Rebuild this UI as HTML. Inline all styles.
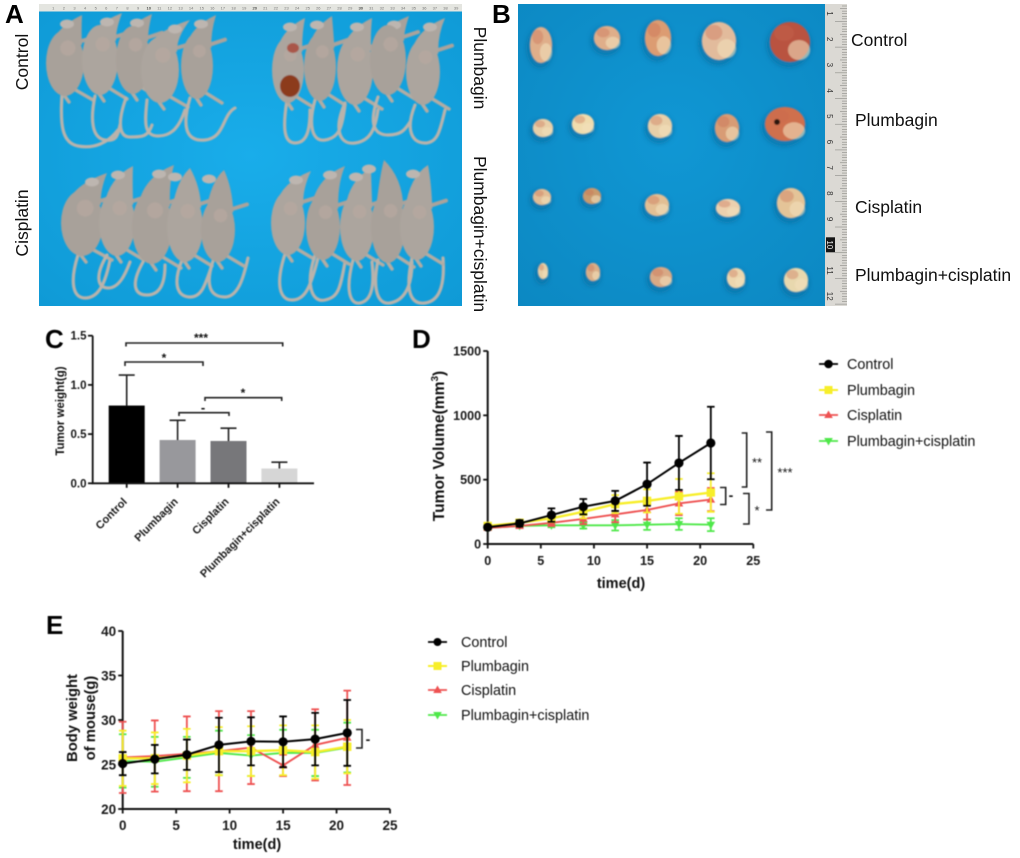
<!DOCTYPE html>
<html lang="en">
<head>
<meta charset="utf-8">
<title>Plumbagin and cisplatin tumor study figure</title>
<style>
html,body{margin:0;padding:0;background:#fff;width:1020px;height:858px;overflow:hidden}
svg{display:block}
text{font-family:"Liberation Sans",Arial,sans-serif;fill:#111}
.bold{font-weight:700}
.panel{font-weight:700;font-size:26px;fill:#000}
.plabel{font-size:17.5px}
.leg{font-size:14.4px}
.tick{font-weight:700;fill:#1a1a1a}
.brk{fill:none;stroke:#222;stroke-width:1.6}
.soft{filter:blur(.4px)}
</style>
</head>
<body>
<svg id="fig" xmlns="http://www.w3.org/2000/svg" width="1020" height="858" viewBox="0 0 1020 858">
  <defs>
    <radialGradient id="blueA" cx="50%" cy="50%" r="70%">
      <stop offset="0" stop-color="#19adea"/><stop offset="1" stop-color="#0f9ad6"/>
    </radialGradient>
    <radialGradient id="blueB" cx="50%" cy="45%" r="75%">
      <stop offset="0" stop-color="#1097d4"/><stop offset="1" stop-color="#0c88c2"/>
    </radialGradient>
    <filter id="blur1"><feGaussianBlur stdDeviation="0.7"/></filter>
    <filter id="blur2"><feGaussianBlur stdDeviation="2.2"/></filter>
  </defs>

  <!-- Panel A -->
  <g id="panelA">
    <rect x="39" y="4" width="423" height="302" fill="url(#blueA)"/>
    <rect x="39" y="4" width="423" height="7.5" fill="#e4e5e0"/>
    <g id="rulerTop"></g>
    <g id="mice" filter="url(#blur1)"></g>
    <text class="panel" x="5" y="23">A</text>
    <text class="plabel" transform="translate(28,62) rotate(-90)" text-anchor="middle">Control</text>
    <text class="plabel" transform="translate(28,223) rotate(-90)" text-anchor="middle">Cisplatin</text>
    <text class="plabel" transform="translate(474,68) rotate(90)" text-anchor="middle">Plumbagin</text>
    <text class="plabel" transform="translate(474,234) rotate(90)" text-anchor="middle">Plumbagin+cisplatin</text>
  </g>

  <!-- Panel B -->
  <g id="panelB">
    <rect x="518" y="4" width="307" height="302" fill="url(#blueB)"/>
    <rect x="825" y="4" width="22" height="302" fill="#dbd9d4"/>
    <g id="rulerSide"></g>
    <g id="tumors" filter="url(#blur1)"></g>
    <text class="panel" x="492" y="23">B</text>
    <text class="plabel" x="851" y="46">Control</text>
    <text class="plabel" x="855" y="126">Plumbagin</text>
    <text class="plabel" x="855" y="213">Cisplatin</text>
    <text class="plabel" x="855" y="281">Plumbagin+cisplatin</text>
  </g>

  <!-- Panel C -->
  <g id="panelC" class="soft">
    <text class="panel" x="45" y="348">C</text>
    <text class="bold" font-size="11.5" transform="translate(64,411) rotate(-90)" text-anchor="middle">Tumor weight(g)</text>
    <g id="chartC"></g>
    <path class="brk" d="M126,346.5V343H282.7V346.5"/>
    <path class="brk" d="M125,366V362H203V366"/>
    <path class="brk" d="M179,416V412.7H229V416"/>
    <path class="brk" d="M205,401V397.7H281.7V401"/>
    <text class="bold" font-size="12" text-anchor="middle" x="201" y="342">***</text>
    <text class="bold" font-size="12" text-anchor="middle" x="164" y="362">*</text>
    <text class="bold" font-size="13" text-anchor="middle" x="203" y="412">-</text>
    <text class="bold" font-size="12" text-anchor="middle" x="243" y="397">*</text>
  </g>

  <!-- Panel D -->
  <g id="panelD" class="soft">
    <text class="panel" x="412" y="348">D</text>
    <text class="bold" font-size="15.6" transform="translate(444,446) rotate(-90)" text-anchor="middle">Tumor Volume(mm<tspan font-size="10" dy="-6">3</tspan><tspan dy="6">)</tspan></text>
    <text class="bold" font-size="14.5" text-anchor="middle" x="621" y="588">time(d)</text>
    <g id="chartD"></g>
    <path class="brk" d="M741.7,433H746.7V487H741.7"/>
    <path class="brk" d="M766,432H771.7V510H766"/>
    <path class="brk" d="M720,487.5H725.7V504.5H720"/>
    <path class="brk" d="M743,493.5H749V524H743"/>
    <text font-size="13" text-anchor="middle" x="757" y="467">**</text>
    <text font-size="13" text-anchor="middle" x="785" y="477">***</text>
    <text class="bold" font-size="14" text-anchor="middle" x="731" y="500">-</text>
    <text font-size="13" text-anchor="middle" x="757" y="515">*</text>

    <g>
      <g>
        <path d="M819,364H838" stroke="#000" stroke-width="1.8"/><circle cx="828.5" cy="364" r="4.3" fill="#000"/>
        <text class="leg" x="847" y="369">Control</text>
      </g>
      <g>
        <path d="M819,390H838" stroke="#f7ee2a" stroke-width="2"/><rect x="824.5" y="386" width="8" height="8" fill="#f7ee2a"/>
        <text class="leg" x="847" y="395">Plumbagin</text>
      </g>
      <g>
        <path d="M819,415H838" stroke="#ee5252" stroke-width="1.8"/><path d="M828.5,410.5l4.3,7.5h-8.6z" fill="#ee5252"/>
        <text class="leg" x="847" y="420">Cisplatin</text>
      </g>
      <g>
        <path d="M819,441H838" stroke="#4fe84a" stroke-width="1.8"/><path d="M828.5,445.5l4.3,-7.5h-8.6z" fill="#4fe84a"/>
        <text class="leg" x="847" y="446">Plumbagin+cisplatin</text>
      </g>
    </g>
  </g>

  <!-- Panel E -->
  <g id="panelE" class="soft">
    <text class="panel" x="46" y="634">E</text>
    <text class="bold" font-size="14.8" text-anchor="middle" transform="translate(77,718) rotate(-90)">Body weight</text>
    <text class="bold" font-size="14.8" text-anchor="middle" transform="translate(95,718) rotate(-90)">of mouse(g)</text>
    <text class="bold" font-size="14.5" text-anchor="middle" x="257" y="849">time(d)</text>
    <g id="chartE"></g>
    <path class="brk" d="M356,729.5H362V748H356"/>
    <text class="bold" font-size="14" text-anchor="middle" x="368" y="744">-</text>

    <g>
      <g>
        <path d="M428,642H447" stroke="#000" stroke-width="1.8"/><circle cx="437.5" cy="642" r="4" fill="#000"/>
        <text class="leg" x="461" y="647">Control</text>
      </g>
      <g>
        <path d="M428,666H447" stroke="#f7ee2a" stroke-width="2"/><rect x="433.5" y="662" width="8" height="8" fill="#f7ee2a"/>
        <text class="leg" x="461" y="671">Plumbagin</text>
      </g>
      <g>
        <path d="M428,690H447" stroke="#ee5252" stroke-width="1.8"/><path d="M437.5,685.5l4.3,7.5h-8.6z" fill="#ee5252"/>
        <text class="leg" x="461" y="695">Cisplatin</text>
      </g>
      <g>
        <path d="M428,715H447" stroke="#4fe84a" stroke-width="1.8"/><path d="M437.5,719.5l4.3,-7.5h-8.6z" fill="#4fe84a"/>
        <text class="leg" x="461" y="720">Plumbagin+cisplatin</text>
      </g>
    </g>
  </g>
</svg>

<script>
/* ---------- chart data ---------- */
const barGroups = ["Control", "Plumbagin", "Cisplatin", "Plumbagin+cisplatin"];
const barMeans = [0.79, 0.44, 0.43, 0.15];
const barErrors = [0.31, 0.20, 0.13, 0.065];
const barTicks = [0, 0.5, 1.0, 1.5];

const days = [0, 3, 6, 9, 12, 15, 18, 21];
const dayTicks = [0, 5, 10, 15, 20, 25];

const volumeTicks = [0, 500, 1000, 1500];
const volumeControl = [130, 160, 225, 290, 335, 465, 630, 785];
const volumeControlErr = [15, 25, 52, 60, 78, 168, 210, 282];
const volumePlumbagin = [140, 165, 200, 250, 310, 335, 370, 400];
const volumePlumbaginErr = [15, 20, 30, 50, 70, 90, 135, 150];
const volumeCisplatin = [125, 140, 165, 195, 230, 265, 315, 345];
const volumeCisplatinErr = [10, 15, 25, 40, 60, 75, 90, 90];
const volumeCombo = [125, 140, 145, 145, 145, 150, 155, 150];
const volumeComboErr = [10, 10, 15, 25, 40, 40, 45, 50];

const weightTicks = [20, 25, 30, 35, 40];
const weightControl = [25.1, 25.6, 26.1, 27.2, 27.6, 27.55, 27.85, 28.55];
const weightControlErr = [1.3, 1.6, 1.7, 3.05, 2.7, 2.85, 2.95, 3.7];
const weightPlumbagin = [25.7, 25.7, 26.0, 26.5, 26.5, 26.6, 26.4, 27.0];
const weightPlumbaginErr = [3.1, 2.9, 3.0, 2.7, 2.8, 2.8, 3.0, 3.0];
const weightCisplatin = [25.8, 25.95, 26.2, 26.5, 26.9, 24.9, 27.2, 28.0];
const weightCisplatinErr = [4.0, 4.0, 4.2, 4.5, 4.1, 1.2, 4.0, 5.3];
const weightCombo = [25.4, 25.3, 25.8, 26.3, 26.0, 26.3, 26.3, 26.9];
const weightComboErr = [3.0, 2.8, 2.3, 2.5, 2.3, 2.6, 2.6, 2.8];

/* ---------- helpers ---------- */
const NS = "http://www.w3.org/2000/svg";
function mk(tag, attrs, parent) {
  const e = document.createElementNS(NS, tag);
  for (const k in attrs) e.setAttribute(k, attrs[k]);
  parent.appendChild(e);
  return e;
}
function linear(d0, d1, r0, r1) {
  return v => r0 + (v - d0) / (d1 - d0) * (r1 - r0);
}

function drawAxes(parent, x, y, xTicks, yTicks, xDom, yDom, fs, yFmt) {
  const ax = mk("path", {d: `M${x(xDom[0])},${y(yDom[1])}V${y(yDom[0])}H${x(xDom[1])}`, fill: "none", stroke: "#111", "stroke-width": 2}, parent);
  
  
  yTicks.forEach(t => {
    const tk = mk("line", {x1: x(xDom[0]) - 4.5, x2: x(xDom[0]), y1: y(t), y2: y(t), stroke: "#111", "stroke-width": 1.8}, parent);
    
    
    const lb = mk("text", {x: x(xDom[0]) - 6.5, y: y(t) + fs * 0.36, "text-anchor": "end", "font-size": fs, class: "tick"}, parent);
    
    
    lb.textContent = yFmt ? yFmt(t) : t;
  });
  xTicks.forEach(t => {
    const tk = mk("line", {x1: x(t), x2: x(t), y1: y(yDom[0]), y2: y(yDom[0]) + 4.5, stroke: "#111", "stroke-width": 1.8}, parent);
    
    
    const lb = mk("text", {x: x(t), y: y(yDom[0]) + 21, "text-anchor": "middle", "font-size": fs, class: "tick"}, parent);
    
    
    lb.textContent = t;
  });
}

function drawSeries(parent, x, y, xs, vals, errs, color, kind, name, lw, cap) {
  const g = mk("g", {}, parent);
  
  
  xs.forEach((d, i) => {
    const up = y(vals[i] + errs[i]), lo = y(vals[i] - errs[i]), px = x(d);
    const bar = mk("path", {d: `M${px - cap},${up}H${px + cap}M${px},${up}V${lo}M${px - cap},${lo}H${px + cap}`, fill: "none", stroke: color, "stroke-width": 1.8}, g);
    
    
  });
  const pts = xs.map((d, i) => x(d) + "," + y(vals[i])).join(" ");
  const line = mk("polyline", {points: pts, fill: "none", stroke: color, "stroke-width": lw}, g);
  
  
  xs.forEach((d, i) => {
    const px = x(d), py = y(vals[i]);
    let m;
    if (kind === "circle") m = mk("circle", {cx: px, cy: py, r: 4.6, fill: color}, g);
    else if (kind === "square") m = mk("rect", {x: px - 4.2, y: py - 4.2, width: 8.4, height: 8.4, fill: color}, g);
    else if (kind === "up") m = mk("path", {d: `M${px},${py - 4.5}l4.3,7.5h-8.6z`, fill: color}, g);
    else m = mk("path", {d: `M${px},${py + 4.5}l4.3,-7.5h-8.6z`, fill: color}, g);
    
    
  });
}

/* ---------- panel C ---------- */
(function () {
  const g = document.getElementById("chartC");
  const y = linear(0, 1.5, 483.3, 335.7);
  const barFill = ["#000000", "#98989c", "#77777a", "#d6d6d6"];
  const left = 108.7, step = 50.9, w = 36;
  barGroups.forEach((name, i) => {
    const x0 = left + i * step, cx = x0 + w / 2, top = y(barMeans[i]);
    const rect = mk("rect", {x: x0, y: top, width: w, height: y(0) - top, fill: barFill[i]}, g);
    
    
    const et = y(barMeans[i] + barErrors[i]);
    const err = mk("path", {d: `M${cx},${top}V${et}M${cx - 8},${et}H${cx + 8}`, fill: "none", stroke: "#222", "stroke-width": 1.6}, g);
    
    
    const tk = mk("line", {x1: cx, x2: cx, y1: y(0), y2: y(0) + 4.5, stroke: "#111", "stroke-width": 1.8}, g);
    
    
    const lb = mk("text", {transform: `translate(${cx + 1},${y(0) + 19}) rotate(-45)`, "text-anchor": "end", "font-size": 11, class: "tick"}, g);
    
    
    lb.textContent = name;
  });
  const ax = mk("path", {d: `M92.7,${y(1.5)}V${y(0)}H314`, fill: "none", stroke: "#111", "stroke-width": 1.8}, g);
  
  
  barTicks.forEach(t => {
    const tk = mk("line", {x1: 88, x2: 92.7, y1: y(t), y2: y(t), stroke: "#111", "stroke-width": 1.8}, g);
    
    
    const lb = mk("text", {x: 86.5, y: y(t) + 4, "text-anchor": "end", "font-size": 11.5, class: "tick"}, g);
    
    
    lb.textContent = t.toFixed(1);
  });
})();

/* ---------- panel D ---------- */
(function () {
  const g = document.getElementById("chartD");
  const x = linear(0, 25, 487.7, 753.3);
  const y = linear(0, 1500, 544, 351);
  drawAxes(g, x, y, dayTicks, volumeTicks, [0, 25], [0, 1500], 12.6);
  drawSeries(g, x, y, days, volumeCombo, volumeComboErr, "#4fe84a", "down", "combination", 1.9, 3.8);
  drawSeries(g, x, y, days, volumeCisplatin, volumeCisplatinErr, "#ee5252", "up", "cisplatin", 1.9, 3.8);
  drawSeries(g, x, y, days, volumePlumbagin, volumePlumbaginErr, "#f7ee2a", "square", "plumbagin", 2.4, 3.8);
  drawSeries(g, x, y, days, volumeControl, volumeControlErr, "#000000", "circle", "control", 2, 3.8);
})();

/* ---------- panel E ---------- */
(function () {
  const g = document.getElementById("chartE");
  const x = linear(0, 25, 122.7, 390);
  const y = linear(20, 40, 809, 631);
  drawAxes(g, x, y, dayTicks, weightTicks, [0, 25], [20, 40], 13.5);
  drawSeries(g, x, y, days, weightCombo, weightComboErr, "#4fe84a", "down", "combination", 1.9, 3.8);
  drawSeries(g, x, y, days, weightCisplatin, weightCisplatinErr, "#ee5252", "up", "cisplatin", 1.9, 3.8);
  drawSeries(g, x, y, days, weightPlumbagin, weightPlumbaginErr, "#f7ee2a", "square", "plumbagin", 2.4, 3.8);
  drawSeries(g, x, y, days, weightControl, weightControlErr, "#000000", "circle", "control", 2, 3.8);
})();

/* ---------- photo illustration: panel A ---------- */
(function () {
  const g = document.getElementById("mice");
  // cx, cy, rx, ry, head tip x, head tip y, tail path
  const mouse = [
    [65, 63, 19, 33, 82, 15, "M62,95C60,125 62,143 78,146S108,143 118,130"],
    [100, 60, 18, 35, 122, 13, "M95,96C90,120 92,138 105,140S118,133 120,125"],
    [133, 60, 17, 34, 152, 14, "M126,98C118,120 118,137 130,137S148,137 152,125"],
    [160, 70, 19, 33, 190, 20, "M147,100C145,120 143,136 158,136S180,125 185,110"],
    [197, 66, 16, 33, 216, 15, "M190,98C182,125 185,142 205,140S222,115 235,108"],
    [288, 70, 16, 33, 305, 18, "M287,100C283,125 283,143 295,143S310,130 310,110"],
    [320, 67, 16, 34, 332, 16, "M315,100C308,125 312,142 325,140S342,130 345,105"],
    [355, 70, 18, 35, 372, 18, "M345,103C333,130 340,145 355,143S375,130 378,110"],
    [388, 60, 18, 35, 409, 16, "M378,97C368,125 375,135 388,135S405,130 410,122"],
    [423, 72, 17, 33, 445, 18, "M415,105C405,130 412,143 425,143S440,130 445,110"],
    [82, 223, 21, 33, 107, 173, "M78,255C70,280 72,298 85,298S105,285 110,260"],
    [117, 223, 18, 33, 133, 166, "M107,255C95,275 97,288 108,288S125,275 130,262"],
    [152, 227, 20, 37, 174, 165, "M143,262C130,285 135,295 147,295S165,285 165,265"],
    [185, 227, 18, 35, 190, 168, "M182,260C172,285 178,297 190,297S205,285 212,265"],
    [218, 230, 17, 32, 224, 170, "M213,261C205,285 210,297 225,297S245,270 248,258"],
    [288, 223, 17, 32, 311, 171, "M285,254C275,285 280,300 292,300S310,290 318,258"],
    [323, 227, 17, 33, 345, 166, "M315,255C305,285 312,303 325,300S340,290 345,262"],
    [357, 227, 17, 34, 371, 168, "M353,260C345,290 350,305 360,303S375,290 372,262"],
    [388, 227, 17, 36, 384, 160, "M378,260C372,290 378,305 390,303S412,290 412,262"],
    [417, 227, 17, 33, 428, 165, "M412,258C405,290 410,305 425,303S445,285 443,258"]
  ];
  mouse.forEach((m, i) => {
    const [cx, cy, rx, ry, hx, hy, tail] = m;
    const mg = mk("g", {}, g);
    
    
    const fur = i % 2 ? "#aca59e" : "#a8a19a";
    mk("path", {d: tail, fill: "none", stroke: "#bab3ab", "stroke-width": 3.2, "stroke-linecap": "round"}, mg);
    mk("path", {d: `M${cx + rx * .5},${cy + ry * .8}L${cx + rx + 9},${cy + ry + 4}M${cx - rx * .2},${cy + ry * .85}L${cx + 4},${cy + ry + 6}`, stroke: "#b3aca3", "stroke-width": 3.5, fill: "none", "stroke-linecap": "round"}, mg);
    mk("path", {d: `M${cx + rx * .5},${cy - ry * .6}L${cx + rx + 12},${cy - ry * .8}`, stroke: "#aaa39b", "stroke-width": 4, fill: "none", "stroke-linecap": "round"}, mg);
    const nx = cx + rx * .1, ny = cy - ry * .55;
    mk("path", {d: `M${nx - rx * .8},${ny}Q${nx - rx * .55},${hy + 12} ${hx},${hy}Q${nx + rx * .75},${hy + 18} ${nx + rx * .8},${ny}Z`, fill: fur}, mg);
    mk("ellipse", {cx: hx - 15, cy: hy + 9, rx: 7, ry: 4.5, fill: "#bdb6b0"}, mg);
    mk("ellipse", {cx: cx, cy: cy, rx: rx, ry: ry, fill: fur}, mg);
    mk("ellipse", {cx: cx + rx * .15, cy: cy - ry * .45, rx: rx * .4, ry: rx * .4, fill: "#b8a8a0", opacity: .7}, mg);
  });
  const wound = mk("ellipse", {cx: 290, cy: 86, rx: 10, ry: 11, fill: "#8c3a1f"}, g);
  
  
  const wound2 = mk("ellipse", {cx: 293, cy: 48, rx: 6, ry: 5, fill: "#a9564a"}, g);
  
  

  const rt = document.getElementById("rulerTop");
  for (let n = 1; n <= 39; n++) {
    const px = 42.7 + n * 10.6;
    const t = mk("text", {x: px, y: 9.5, "font-size": 4, "text-anchor": "middle"}, rt);
    
    
    t.style.fill = n % 10 === 0 ? "#000" : "#777";
    t.textContent = n;
  }
})();

/* ---------- photo illustration: panel B ---------- */
(function () {
  const g = document.getElementById("tumors");
  const light = "#e8cfa8", mid = "#dfae8a", red = "#b9523f";
  // x, y, rx, ry, colour
  const tumor = [
    [541, 45, 11, 18, mid], [607, 38, 13, 12, mid], [658, 38, 13, 18, "#dc9c72"], [719, 41, 17, 19, "#e2bb9c"], [790, 42, 20, 20, red],
    [543, 128, 10, 9, light], [583, 124, 11, 10, "#efdcae"], [660, 126, 12, 12, light], [727, 128, 12, 14, "#d89c74"], [785, 124, 20, 17, "#cf6f4e"],
    [542, 197, 9, 8, "#e2bd95"], [592, 196, 9, 8, "#c99a6c"], [657, 205, 12, 11, "#e2bf94"], [728, 208, 12, 9, "#ecd0ae"], [791, 203, 14, 15, "#e4c498"],
    [543, 271, 5, 8, "#e6cfa6"], [593, 272, 7, 9, "#d9ae88"], [661, 277, 11, 10, "#d9a985"], [736, 278, 9, 10, "#ecd6ae"], [796, 280, 12, 12, "#e8d8ae"]
  ];
  tumor.forEach(t => {
    const sh = mk("ellipse", {cx: t[0] - 1, cy: t[1] + 3, rx: t[2] + 3, ry: t[3] + 3, fill: "#0a6c9e", opacity: .55, filter: "url(#blur2)"}, g);
    
    
    const e = mk("ellipse", {cx: t[0], cy: t[1], rx: t[2], ry: t[3], fill: t[4]}, g);
    
    
    const lobeA = mk("ellipse", {cx: t[0] + t[2] * .45, cy: t[1] + t[3] * .4, rx: t[2] * .55, ry: t[3] * .5, fill: "#f1dfba", opacity: .6}, g);
    
    
    const lobeB = mk("ellipse", {cx: t[0] - t[2] * .3, cy: t[1] - t[3] * .45, rx: t[2] * .5, ry: t[3] * .4, fill: "#c9694f", opacity: .35}, g);
    
    
  });
  const spot = mk("circle", {cx: 777, cy: 122, r: 3, fill: "#2a1510"}, g);
  
  

  const rs = document.getElementById("rulerSide");
  for (let i = 0; i <= 116; i++) {
    const py = 6 + i * 2.57, major = i % 10 === 6;
    const l = mk("line", {x1: major ? 835 : i % 5 === 1 ? 840 : 842, x2: 847, y1: py, y2: py, stroke: "#8b8a86", "stroke-width": .6}, rs);
    
    
  }
  for (let n = 1; n <= 12; n++) {
    const py = 12 + (n - 1) * 25.7;
    if (n === 10) {
      const box = mk("rect", {x: 826, y: py - 6, width: 9, height: 15, fill: "#151515"}, rs);
      
      
    }
    const t = mk("text", {transform: `translate(827,${py + 1.5}) rotate(90)`, "font-size": 8, "text-anchor": "middle"}, rs);
    
    
    t.style.fill = n === 10 ? "#eee" : "#333";
    t.textContent = n;
  }
})();
</script>
</body>
</html>
